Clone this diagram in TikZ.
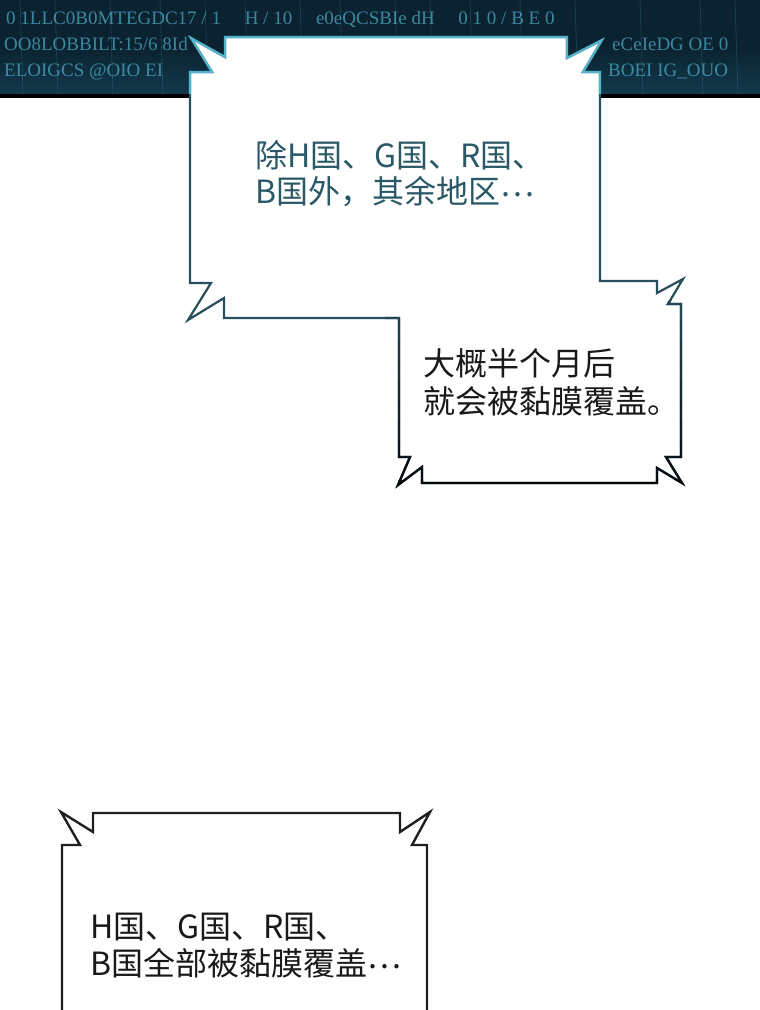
\documentclass[tikz,border=0pt]{standalone}
\usepackage{fontspec}
\newfontfamily\cjk{Noto Sans CJK SC}
\newfontfamily\codefont{Liberation Serif}
\definecolor{bandbg}{HTML}{0B2230}
\definecolor{bandglow}{HTML}{123A4C}
\definecolor{glyph}{HTML}{4FB3CC}
\definecolor{bubteal}{HTML}{274F5D}
\definecolor{bublight}{HTML}{52B4CB}
\definecolor{txtteal}{HTML}{2A5866}
\newcommand{\middots}{\raisebox{7pt}{…}}
\tikzset{
  bubA/.style={fill=white, draw=bubteal, line width=2.2pt, line join=miter, miter limit=20},
  bubB/.style={fill=white, draw=black!88, line width=2.4pt, line join=miter, miter limit=20},
  tealtext/.style={font=\cjk\fontsize{32}{36}\selectfont, text=txtteal, anchor=base west, inner sep=0pt},
  blacktext/.style={font=\cjk\fontsize{32}{36}\selectfont, text=black!90, anchor=base west, inner sep=0pt},
  codetext/.style={font=\codefont\fontsize{19}{19}\selectfont, text=glyph, opacity=0.7, anchor=base west, inner sep=0pt},
}
\begin{document}
\begin{tikzpicture}[x=1pt,y=-1pt]
\useasboundingbox (0,0) rectangle (760,1010);
% ---- top band ----
\begin{scope}
  \clip (0,0) rectangle (760,94);
  \shade[top color=bandbg, bottom color=bandglow, middle color=bandbg] (0,0) rectangle (760,94);
  \foreach \xx in {20,55,110,160,205,245,300,340,395,430,470,520,575,640,700,735}{
    \draw[glyph, opacity=0.25, line width=0.6pt] (\xx,0) -- (\xx+3,94);
  }
\end{scope}
\node[codetext] (g1) at (6,24) {0 1LLC0B0MTEGDC17 / 1 \quad H / 10 \quad e0eQCSBIe dH \quad 0 1 0 / B E 0};
\node[codetext] (g2) at (4,50) {OO8LOBBILT:15/6 8Id};
\node[codetext] (g3) at (4,76) {ELOIGCS @OIO EI};
\node[codetext] (g4) at (612,50) {eCeIeDG OE 0};
\node[codetext] (g5) at (608,76) {BOEI IG\_OUO};
\fill[black] (0,93.5) rectangle (760,98);
% ---- bubble 1 + 2 (joined outline) ----
\def\bubpath{(190,72) -- (212,72) -- (191,38) -- (225,57) -- (225,37) -- (567,37) -- (567,58) -- (602,40) -- (583,72) -- (600,72) -- (600,281) -- (657,281) -- (657,293) -- (683,279) -- (668,304) -- (681,304) -- (681,457) -- (666,457) -- (682,483) -- (657,468) -- (657,483) -- (422,483) -- (422,467) -- (398,485) -- (410,457) -- (399,457) -- (399,318) -- (224,318) -- (224,298) -- (188,320) -- (211,283) -- (190,283) -- cycle}
\path[bubA] \bubpath;
\begin{scope}
  \clip (0,0) rectangle (760,93.5);
  \draw[draw=bublight, line width=2.2pt, line join=miter, miter limit=20] \bubpath;
\end{scope}
% darker outline towards the bottom of the second bubble
\foreach \i in {0,...,9}{
  \pgfmathsetmacro\pct{int(90-9*\i)}
  \begin{scope}
    \clip (385,{300+20*\i}) rectangle (700,{320+20*\i});
    \draw[draw=bubteal!\pct!black, line width=2.3pt, line join=miter, miter limit=20] \bubpath;
  \end{scope}
}
% ---- bubble 3 ----
\path[bubB] (62,1014) -- (62,845) -- (80,845) -- (61,812) -- (93,832) -- (93,813) -- (400,813) -- (400,832) -- (430,812) -- (412,845) -- (427,845) -- (427,1014);
% ---- texts ----
\node[tealtext] (t1a) at (255,167) {除H国、G国、R国、};
\node[tealtext] (t1b) at (255,203) {B国外，其余地区\middots};
\node[blacktext] (t2a) at (423,375) {大概半个月后};
\node[blacktext] (t2b) at (423,413) {就会被黏膜覆盖。};
\node[blacktext] (t3a) at (90,938) {H国、G国、R国、};
\node[blacktext] (t3b) at (90,975) {B国全部被黏膜覆盖\middots};
\end{tikzpicture}
\end{document}
